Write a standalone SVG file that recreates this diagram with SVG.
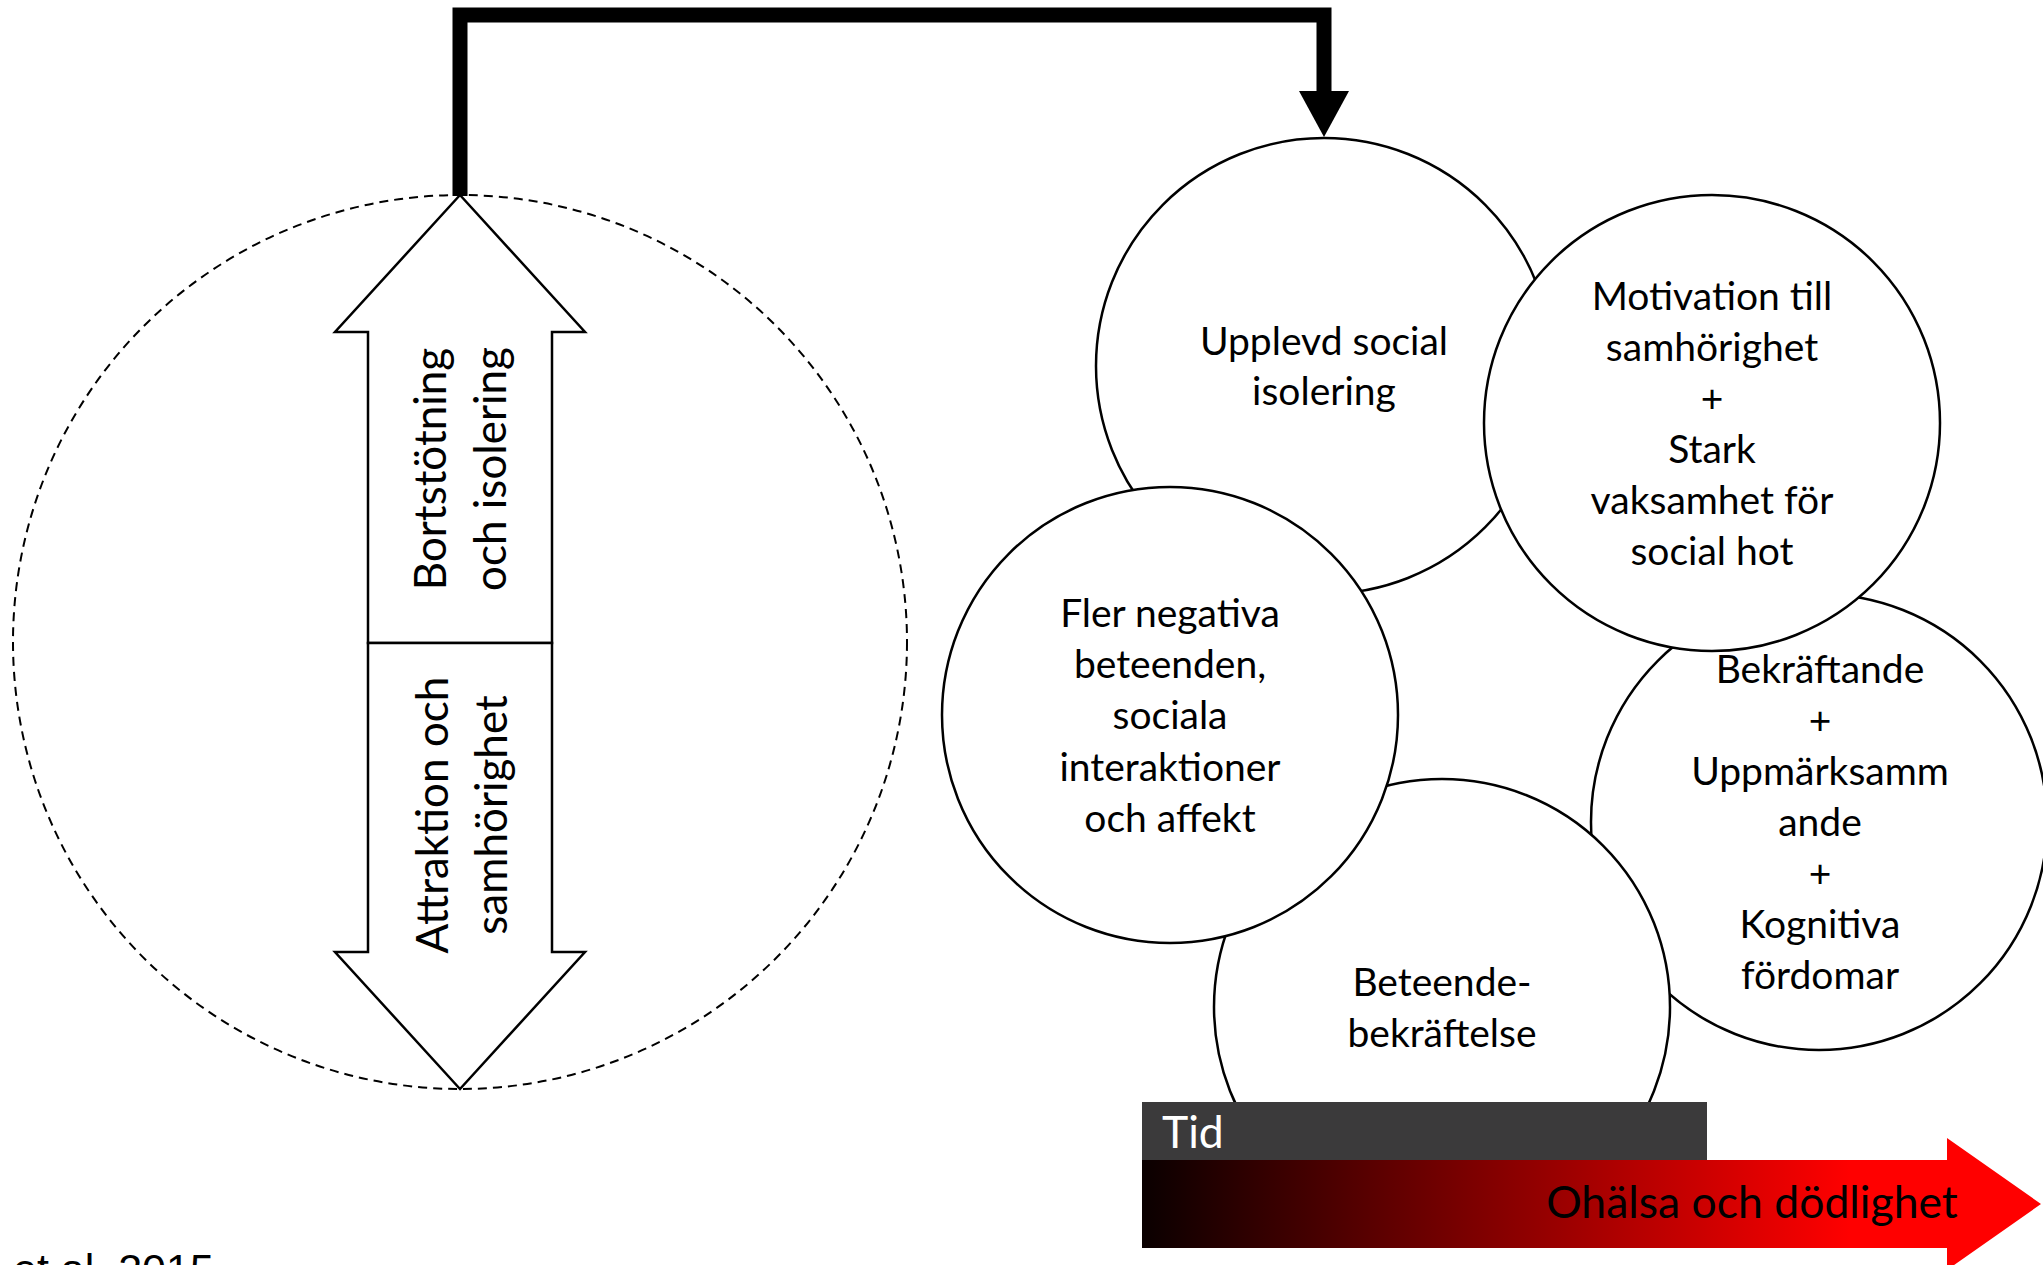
<svg xmlns="http://www.w3.org/2000/svg" width="2043" height="1265" viewBox="0 0 2043 1265">
<style>
.node{fill:#fff;stroke:#000;stroke-width:2.5}
.t{font-family:Lato,"Liberation Sans",sans-serif;font-size:39px;fill:#000;text-anchor:middle}
.ta{font-family:Lato,"Liberation Sans",sans-serif;font-size:44px;fill:#000;text-anchor:middle}
.big{font-family:Lato,"Liberation Sans",sans-serif;font-size:44.5px}
.conn{fill:none;stroke:#000;stroke-width:15}
</style>
<defs>
<linearGradient id="redgrad" gradientUnits="userSpaceOnUse" x1="1142" y1="0" x2="1850" y2="0">
<stop offset="0" stop-color="#0a0000"/>
<stop offset="1" stop-color="#ff0000"/>
</linearGradient>
</defs>
<rect width="2043" height="1265" fill="#fff"/>

<g id="group-circle">
<circle cx="460" cy="642" r="447" fill="none" stroke="#000" stroke-width="2" stroke-dasharray="9 6"/>
</g>

<g id="arrow-up">
<polygon class="node" points="460,195 585,332 552,332 552,643 368,643 368,332 335,332"/>
<text class="ta" transform="translate(446,469) rotate(-90)">Bortstötning</text>
<text class="ta" transform="translate(506,469) rotate(-90)">och isolering</text>
</g>
<g id="arrow-down">
<polygon class="node" points="368,643 552,643 552,952 585,952 460,1089 335,952 368,952"/>
<text class="ta" transform="translate(448,815) rotate(-90)">Attraktion och</text>
<text class="ta" transform="translate(507,815) rotate(-90)">samhörighet</text>
</g>

<g id="connectors">
<path class="conn" d="M460,196 V15 H1324 V92"/>
<polygon points="1299,91 1349,91 1324,137" fill="#000"/>
</g>

<g id="upplevd">
<circle class="node" cx="1324" cy="366" r="228"/>
<text class="t" x="1324" y="355">Upplevd social</text>
<text class="t" x="1324" y="405">isolering</text>
</g>

<g id="bekraftande">
<circle class="node" cx="1819" cy="822" r="228"/>
<text class="t" x="1820" y="683">Bekräftande</text>
<text class="t" x="1820" y="734">+</text>
<text class="t" x="1820" y="785">Uppmärksamm</text>
<text class="t" x="1820" y="836">ande</text>
<text class="t" x="1820" y="887">+</text>
<text class="t" x="1820" y="938">Kognitiva</text>
<text class="t" x="1820" y="989">fördomar</text>
</g>

<g id="beteende">
<circle class="node" cx="1442" cy="1007" r="228"/>
<text class="t" x="1442" y="996">Beteende-</text>
<text class="t" x="1442" y="1047">bekräftelse</text>
</g>

<g id="fler">
<circle class="node" cx="1170" cy="715" r="228"/>
<text class="t" x="1170" y="627">Fler negativa</text>
<text class="t" x="1170" y="678">beteenden,</text>
<text class="t" x="1170" y="729">sociala</text>
<text class="t" x="1170" y="781">interaktioner</text>
<text class="t" x="1170" y="832">och affekt</text>
</g>

<g id="motivation">
<circle class="node" cx="1712" cy="423" r="228"/>
<text class="t" x="1712" y="310">Motivation till</text>
<text class="t" x="1712" y="361">samhörighet</text>
<text class="t" x="1712" y="412">+</text>
<text class="t" x="1712" y="463">Stark</text>
<text class="t" x="1712" y="514">vaksamhet för</text>
<text class="t" x="1712" y="565">social hot</text>
</g>

<g id="tid">
<rect x="1142" y="1102" width="565" height="58" fill="#3b3a3b"/>
<text class="big" x="1162" y="1148" fill="#fff">Tid</text>
</g>

<g id="ohalsa">
<polygon points="1142,1160 1947,1160 1947,1138 2041,1204 1947,1270 1947,1248 1142,1248" fill="url(#redgrad)"/>
<text class="big" x="1752" y="1218" fill="#000" text-anchor="middle">Ohälsa och dödlighet</text>
</g>

<g id="citation">
<text x="13" y="1284" font-family="'Liberation Sans',Arial,sans-serif" font-size="43" fill="#000">et al. 2015</text>
</g>
</svg>
